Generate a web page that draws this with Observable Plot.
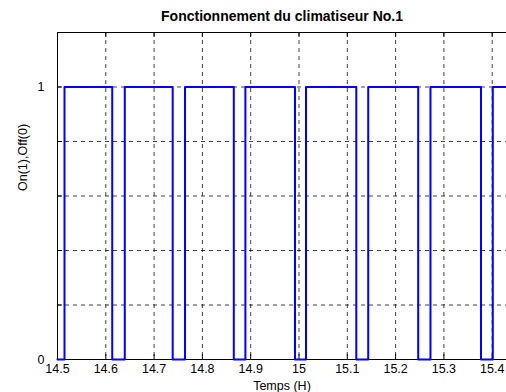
<!DOCTYPE html>
<html>
<head>
<meta charset="utf-8">
<script src="https://cdn.jsdelivr.net/npm/d3@7"></script>
<script src="https://cdn.jsdelivr.net/npm/@observablehq/plot@0.6"></script>
<style>
  html, body { margin: 0; padding: 0; background: #fff; overflow: hidden; }
  svg { display: block; }
</style>
</head>
<body>
<div id="chart"></div>
<script>
// Data
const times  = [14.5, 14.5145, 14.6133, 14.6393, 14.7385, 14.764, 14.865, 14.889, 14.9917, 15.0145, 15.1186, 15.1433, 15.2468, 15.2722, 15.3768, 15.4012, 15.4296];
const states = [0,    1,       0,       1,       0,       1,      0,      1,      0,       1,       0,       1,       0,       1,       0,       1,       1];
const xTicks = [14.5, 14.6, 14.7, 14.8, 14.9, 15, 15.1, 15.2, 15.3, 15.4];
const xTickLabels = ["14.5", "14.6", "14.7", "14.8", "14.9", "15", "15.1", "15.2", "15.3", "15.4"];
const yTicks = [0, 0.2, 0.4, 0.6, 0.8, 1, 1.2];
const yGrid = [0.2, 0.4, 0.6, 0.8, 1];
const yLabelTicks = [0, 1];
const yTickLabels = ["0", "1"];
const xDomain = [14.5, 15.4296];
const yDomain = [0, 1.2];
const titleText = "Fonctionnement du climatiseur No.1";
const xLabelText = "Temps (H)";
const yLabelText = "On(1),Off(0)";

const data = times.map((t, i) => ({t, s: states[i]}));

const W = 506, H = 392, mL = 57, mR = 0, mT = 32, mB = 33;
const plotW = W - mL - mR, plotH = H - mT - mB;
const tick = 5;
const font = "Liberation Sans, Arial, Helvetica, sans-serif";

const chart = Plot.plot({
  width: W,
  height: H,
  marginLeft: mL,
  marginRight: mR,
  marginTop: mT,
  marginBottom: mB,
  style: {fontFamily: font, fontSize: "12.5px", color: "#000", background: "#fff", overflow: "visible"},
  x: {domain: xDomain, axis: null},
  y: {domain: yDomain, axis: null},
  marks: [
    // dashed grid
    Plot.gridX(xTicks.slice(1), {stroke: "#000", strokeOpacity: 0.75, strokeDasharray: "4,4"}),
    Plot.gridY(yGrid, {stroke: "#000", strokeOpacity: 0.75, strokeDasharray: "4,4"}),
    // inward ticks
    Plot.tickX(xTicks, {x: d => d, stroke: "#000", insetTop: plotH - tick}),
    Plot.tickX(xTicks, {x: d => d, stroke: "#000", insetBottom: plotH - tick}),
    Plot.tickY(yTicks, {y: d => d, stroke: "#000", insetRight: plotW - tick}),
    // axes frame
    Plot.ruleY([yDomain[0]], {stroke: "#000"}),
    Plot.ruleY([yDomain[1]], {stroke: "#000"}),
    Plot.ruleX([xDomain[0]], {stroke: "#000"}),
    // tick labels
    Plot.axisX(xTicks, {anchor: "bottom", tickSize: 0, tickPadding: 5, tickFormat: (d, i) => xTickLabels[i], fontSize: 12.5, label: null}),
    Plot.axisY(yLabelTicks, {anchor: "left", tickSize: 0, tickPadding: 13, tickFormat: (d, i) => yTickLabels[i], fontSize: 12.5, label: null}),
    // signal
    Plot.line(data, {x: "t", y: "s", curve: "step-after", stroke: "#0000ff", strokeWidth: 2}),
    // title and labels
    Plot.text([titleText], {frameAnchor: "top", dy: -16, fontWeight: "bold", fontSize: 14, lineAnchor: "middle", style: "letter-spacing:0.5px"}),
    Plot.text([xLabelText], {frameAnchor: "bottom", dy: 26, fontSize: 12.5, lineAnchor: "middle"}),
    Plot.text([yLabelText], {frameAnchor: "left", dx: -35, dy: -5, rotate: -90, fontSize: 12.5, lineAnchor: "middle"})
  ]
});
document.getElementById("chart").appendChild(chart);
</script>
</body>
</html>
